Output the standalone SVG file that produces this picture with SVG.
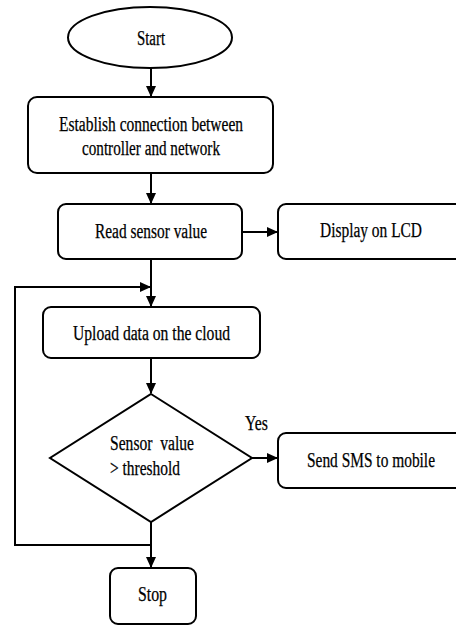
<svg xmlns="http://www.w3.org/2000/svg" width="456" height="627" viewBox="0 0 456 627">
<style>
.n{fill:#fff;stroke:#000;stroke-width:2}
.t{font-family:"Liberation Serif","Times New Roman",serif;font-size:20px;fill:#000;stroke:#000;stroke-width:0.25}
.c{fill:none;stroke:#000;stroke-width:2}
</style>
<defs>
<marker id="ah" markerUnits="userSpaceOnUse" markerWidth="11" markerHeight="10" refX="10" refY="5" orient="auto">
<path d="M0,0 L11,5 L0,10 z" fill="#000"/>
</marker>
</defs>
<rect width="456" height="627" fill="#fff"/>
<g id="connectors">
<path class="c" d="M151,68 V96" marker-end="url(#ah)"/>
<path class="c" d="M151,173 V203" marker-end="url(#ah)"/>
<path class="c" d="M242,232 H277" marker-end="url(#ah)"/>
<path class="c" d="M151,259 V306" marker-end="url(#ah)"/>
<path class="c" d="M151,545 H15 V287 H150" marker-end="url(#ah)"/>
<path class="c" d="M151,358 V393" marker-end="url(#ah)"/>
<path class="c" d="M252,458 H277" marker-end="url(#ah)"/>
<path class="c" d="M151,522 V567" marker-end="url(#ah)"/>
</g>
<g id="start">
<ellipse class="n" cx="150" cy="37.5" rx="82" ry="30.5"/>
<text class="t" x="137" y="45" textLength="28" lengthAdjust="spacingAndGlyphs">Start</text>
</g>
<g id="establish">
<rect class="n" x="28" y="97" width="245" height="76" rx="9"/>
<text class="t" x="59" y="131" textLength="184" lengthAdjust="spacingAndGlyphs">Establish connection between</text>
<text class="t" x="82" y="155" textLength="138" lengthAdjust="spacingAndGlyphs">controller and network</text>
</g>
<g id="read">
<rect class="n" x="58" y="204" width="184" height="55" rx="8"/>
<text class="t" x="95" y="238" textLength="112" lengthAdjust="spacingAndGlyphs">Read sensor value</text>
</g>
<g id="display">
<rect class="n" x="278" y="204" width="195" height="55" rx="8"/>
<text class="t" x="320" y="237" textLength="102" lengthAdjust="spacingAndGlyphs">Display on LCD</text>
</g>
<g id="upload">
<rect class="n" x="43" y="307" width="217" height="51" rx="8"/>
<text class="t" x="73" y="340" textLength="157" lengthAdjust="spacingAndGlyphs">Upload data on the cloud</text>
</g>
<g id="decision">
<polygon class="n" points="151,394 252,458 151,522 50,458"/>
<text class="t" x="110" y="450" textLength="84" lengthAdjust="spacingAndGlyphs" xml:space="preserve">Sensor  value</text>
<text class="t" x="110" y="475" textLength="70" lengthAdjust="spacingAndGlyphs">&gt; threshold</text>
</g>
<g id="yes-label">
<text class="t" x="245" y="430" textLength="23" lengthAdjust="spacingAndGlyphs">Yes</text>
</g>
<g id="sms">
<rect class="n" x="278" y="433" width="195" height="55" rx="8"/>
<text class="t" x="307" y="467" textLength="128" lengthAdjust="spacingAndGlyphs">Send SMS to mobile</text>
</g>
<g id="stop">
<rect class="n" x="110" y="568" width="86" height="56" rx="8"/>
<text class="t" x="138" y="601" textLength="29" lengthAdjust="spacingAndGlyphs">Stop</text>
</g>
</svg>
